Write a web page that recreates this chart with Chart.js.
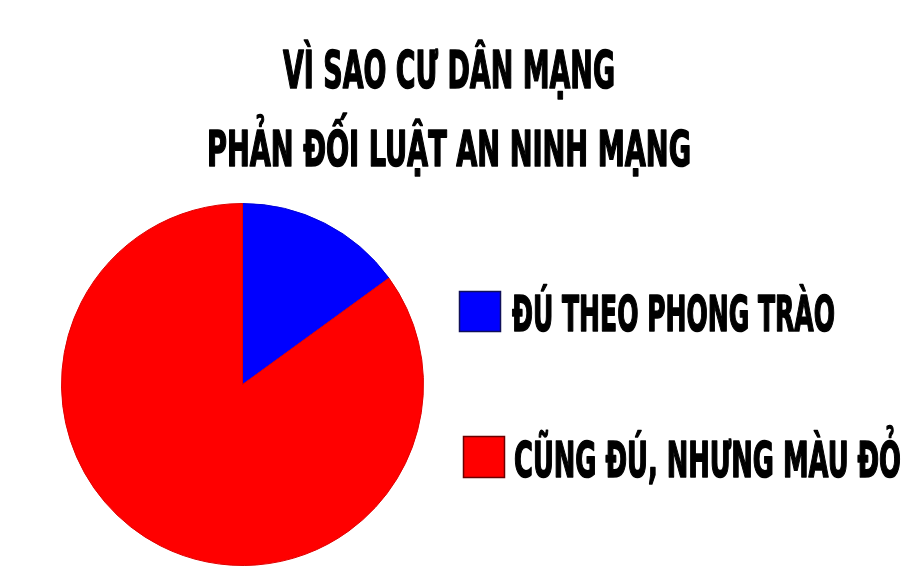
<!DOCTYPE html>
<html>
<head>
<meta charset="utf-8">
<script src="https://cdn.jsdelivr.net/npm/chart.js@4/dist/chart.umd.min.js"></script>
<style>
  html, body { margin: 0; padding: 0; background: #ffffff; }
  #wrap { width: 919px; height: 588px; }
</style>
</head>
<body>
<div id="wrap"><canvas id="c" width="919" height="588"></canvas></div>
<script>
const titleLines = ['VÌ SAO CƯ DÂN MẠNG', 'PHẢN ĐỐI LUẬT AN NINH MẠNG'];
const categories = ['ĐÚ THEO PHONG TRÀO', 'CŨNG ĐÚ, NHƯNG MÀU ĐỎ'];
const values = [15, 85];
const colors = ['#0000ff', '#ff0000'];
const edgeColors = ['#0000d8', '#e00000'];
const boxBorders = ['#10105a', '#6a0000'];

const FONT_FAMILY = '"Liberation Sans Narrow", "DejaVu Sans Condensed", "Liberation Sans", sans-serif';

function drawCondensed(ctx, text, x, baseline, width, size) {
  ctx.save();
  ctx.font = 'bold ' + size + 'px ' + FONT_FAMILY;
  ctx.textAlign = 'left';
  ctx.textBaseline = 'alphabetic';
  const w = ctx.measureText(text).width;
  const sx = width / w;
  ctx.translate(x, baseline);
  ctx.scale(sx, 1);
  ctx.fillStyle = '#000000';
  ctx.strokeStyle = '#000000';
  ctx.lineWidth = 1.6;
  ctx.lineJoin = 'round';
  ctx.fillText(text, 0, 0);
  ctx.strokeText(text, 0, 0);
  ctx.restore();
}

const textPlugin = {
  id: 'textPlugin',
  afterDraw(chart) {
    const ctx = chart.ctx;
    const titleCenter = 449;
    const titleSpecs = [
      { baseline: 88, width: 332, size: 52 },
      { baseline: 166, width: 484, size: 49 }
    ];
    titleLines.forEach((line, i) => {
      const s = titleSpecs[i];
      drawCondensed(ctx, line, titleCenter - s.width / 2, s.baseline, s.width, s.size);
    });
    const legendSpecs = [
      { bx: 459, by: 291, bw: 42, bh: 41, tx: 512, baseline: 331, width: 323, size: 50 },
      { bx: 463, by: 436, bw: 42, bh: 42, tx: 514, baseline: 477, width: 387, size: 49 }
    ];
    const labels = chart.data.labels;
    const ds = chart.data.datasets[0];
    labels.forEach((lab, i) => {
      const s = legendSpecs[i];
      ctx.save();
      ctx.fillStyle = ds.backgroundColor[i];
      ctx.fillRect(s.bx, s.by, s.bw, s.bh);
      ctx.strokeStyle = boxBorders[i];
      ctx.lineWidth = 1.5;
      ctx.strokeRect(s.bx + 0.5, s.by + 0.5, s.bw - 1, s.bh - 1);
      ctx.restore();
      drawCondensed(ctx, lab, s.tx, s.baseline, s.width, s.size);
    });
  }
};

new Chart(document.getElementById('c'), {
  type: 'pie',
  data: {
    labels: categories,
    datasets: [{
      data: values,
      backgroundColor: colors,
      borderColor: edgeColors,
      borderWidth: 1
    }]
  },
  options: {
    responsive: false,
    animation: false,
    layout: { padding: { left: 61, right: 495, top: 203, bottom: 22 } },
    plugins: {
      legend: { display: false },
      title: { display: false },
      tooltip: { enabled: false }
    }
  },
  plugins: [textPlugin]
});
</script>
</body>
</html>
